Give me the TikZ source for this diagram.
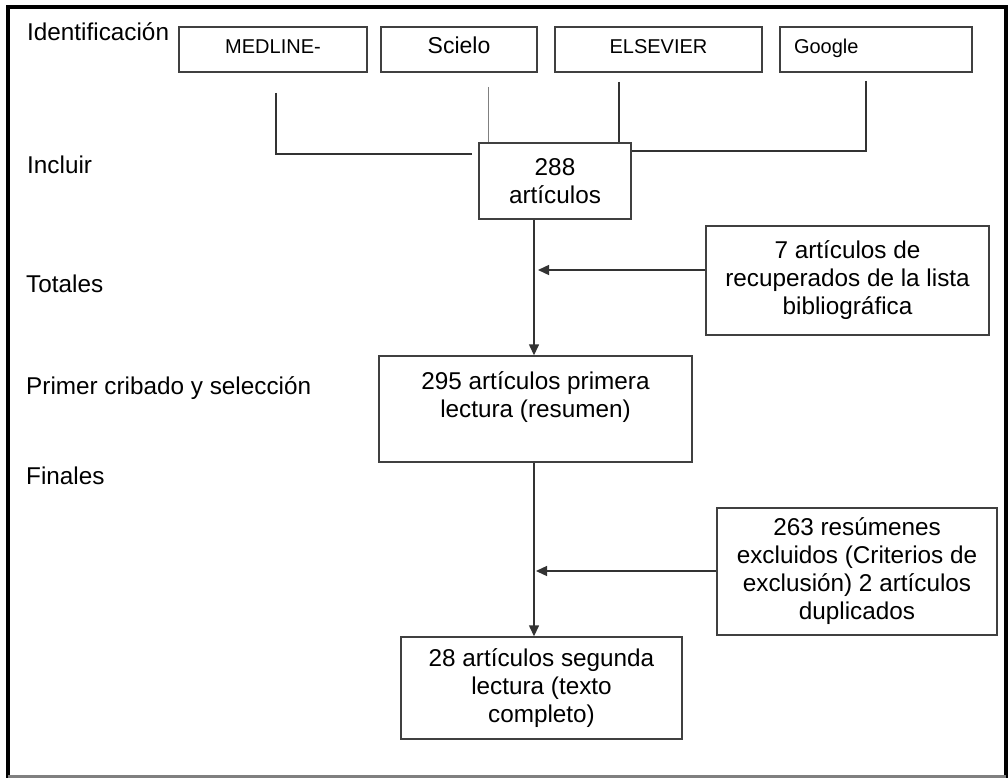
\documentclass[tikz,border=0pt]{standalone}
\usepackage{fontspec}
\setmainfont{Liberation Sans}
\usetikzlibrary{arrows.meta}
\definecolor{boxc}{gray}{0.25}
\definecolor{linec}{gray}{0.2}
\definecolor{lightc}{gray}{0.5}
\begin{document}
\begin{tikzpicture}[x=1pt,y=-1pt,
  box/.style={draw=boxc, line width=1.4pt, inner sep=0pt, align=center, font=\fontsize{24.3}{28}\selectfont},
  srcbox/.style={draw=boxc, line width=1.4pt, inner sep=0pt, minimum height=45pt, text height=18pt, text depth=9pt, font=\fontsize{20}{24}\selectfont},
  lbl/.style={anchor=base west, inner sep=0pt, font=\fontsize{24.3}{28}\selectfont},
  conn/.style={draw=linec, line width=1.4pt},
  arr/.style={conn, -{Triangle[length=11pt,width=10pt]}},
]
\useasboundingbox (0,0) rectangle (1008,778);
\fill[white] (0,0) rectangle (1008,778);
% outer frame
\draw[line width=4pt, line cap=rect] (8,778) -- (8,7) -- (1006,7) -- (1006,778);
\draw[line width=2.5pt, gray] (8,776.5) -- (1006,776.5);

% side labels
\node[lbl] (lid) at (27,41) {Identificación};
\node[lbl] (linc) at (27,173) {Incluir};
\node[lbl] (ltot) at (26,292) {Totales};
\node[lbl] (lpri) at (26,394) {Primer cribado y selección};
\node[lbl] (lfin) at (26,484) {Finales};

% source boxes
\node[srcbox, minimum width=188pt] (med) at (273,49.5) {MEDLINE-};
\node[srcbox, minimum width=156pt, font=\fontsize{23}{26}\selectfont] (sci) at (459,49.5) {Scielo};
\node[srcbox, minimum width=207pt] (els) at (658.5,49.5) {ELSEVIER};
\node[srcbox, minimum width=192pt, inner xsep=14pt, text width=164pt, align=left] (goo) at (876,49.5) {Google};

% main boxes
\node[box, minimum width=152pt, minimum height=76pt] (n288) at (555,181) {288\\artículos};
\node[box, minimum width=283pt, minimum height=109pt] (b7) at (847.5,280.5) {7 artículos de\\recuperados de la lista\\bibliográfica};
\node[box, minimum width=313pt, minimum height=106pt] (b295) at (535.5,409) {295 artículos primera\\lectura (resumen)\\\mbox{}};
\node[box, minimum width=280pt, minimum height=127pt] (b263) at (857,571.5) {263 resúmenes\\excluidos (Criterios de\\exclusión) 2 artículos\\duplicados};
\node[box, minimum width=281pt, minimum height=102pt] (b28) at (541.5,688) {28 artículos segunda\\lectura (texto\\completo)};

% connectors from sources
\coordinate (m1) at (276,93);
\coordinate (m2) at (472,154);
\draw[conn] (m1) |- (m2);
\coordinate (s1) at (488,87);
\draw[conn, draw=lightc, line width=1pt] (s1) -- (n288.north -| s1);
\coordinate (e1) at (619,82);
\draw[conn] (e1) -- (n288.north -| e1);
\coordinate (g1) at (866,81);
\coordinate (g2) at (0,151);
\draw[conn] (g1) |- (n288.east |- g2);

% main flow
\coordinate (vx) at (534,0);
\draw[arr] (n288.south -| vx) -- (b295.north -| vx);
\draw[arr] (b295.south -| vx) -- (b28.north -| vx);
\coordinate (j1) at (538,270);
\draw[arr] (b7.west |- j1) -- (j1);
\coordinate (j2) at (536,571);
\draw[arr] (b263.west |- j2) -- (j2);
\end{tikzpicture}
\end{document}
